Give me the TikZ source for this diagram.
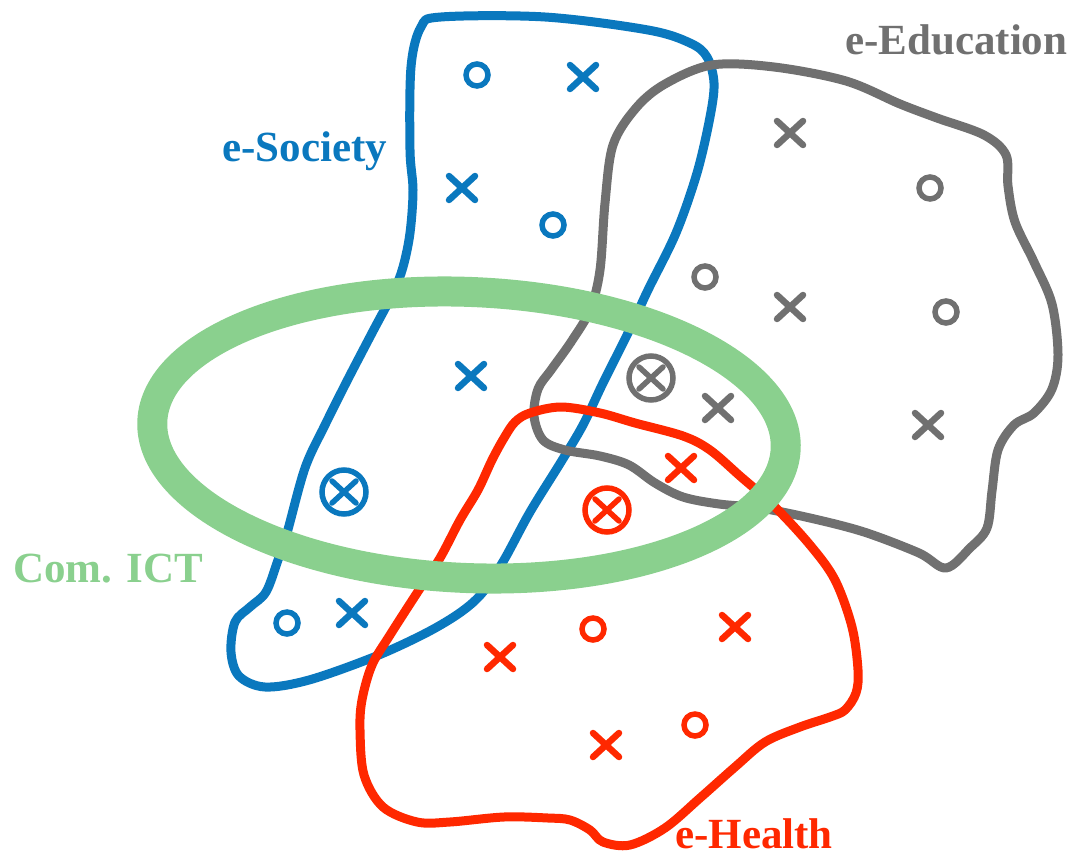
\documentclass[tikz,border=0pt]{standalone}
\usepackage{fontspec}
\setmainfont{Liberation Serif}
\definecolor{socblue}{RGB}{10,120,190}
\definecolor{edugray}{RGB}{112,112,112}
\definecolor{healthred}{RGB}{255,40,0}
\definecolor{ictgreen}{RGB}{138,208,142}
\tikzset{
  lbl/.style={font=\fontsize{43}{50}\selectfont\bfseries, anchor=base west, inner sep=0pt},
  shapeline/.style={line width=9pt, line join=round},
  xm/.pic={\draw[line width=6.5pt, line cap=round] (-13,-12)--(13,12) (-13,12)--(13,-12);},
  om/.pic={\draw[line width=5.5pt] (0,0) circle[radius=11];},
  oxm/.pic={\draw[line width=5.5pt] (0,0) circle[radius=22];
            \draw[line width=5.5pt, line cap=round] (-12,-11)--(12,11) (-12,11)--(12,-11);}
}
\begin{document}
\begin{tikzpicture}[x=1pt,y=-1pt]
\useasboundingbox (0,0) rectangle (1081,861);
% e-Society
\draw[socblue, shapeline] plot[smooth cycle, tension=0.55] coordinates {
 (421,27) (441,17) (545,17) (648,30) (690,43) (707,57) (714,83) (710,117) (697,173)
 (676,233) (648,290) (628,333) (603,383) (583,425) (561,462) (530,512) (504,560)
 (483,592) (461,612) (426,633) (374,657) (309,680) (265,687) (239,676) (231,652)
 (235,622) (250,607) (266,592) (278,560) (287,533) (305,468) (325,425) (347,381)
 (372,333) (393,293) (403,267) (410,233) (413,190) (410,150) (411,67)};
% e-Education
\draw[edugray, shapeline] plot[smooth cycle, tension=0.55] coordinates {
 (712,65) (774,67) (846,81) (900,104) (937,118) (984,135) (1006,155) (1008,186)
 (1015,222) (1034,262) (1052,304) (1058,355) (1052,389) (1034,413) (1014,425)
 (998,450) (992,491) (987,528) (970,548) (946,568) (919,553) (864,532) (810,518)
 (760,508) (719,504) (683,497) (655,483) (629,465) (600,456) (565,450) (543,440)
 (534,416) (538,389) (551,370) (571,342) (590,310) (600,270) (605,203) (613,145)
 (636,108) (665,84)};
% e-Health
\draw[healthred, shapeline] plot[smooth cycle, tension=0.55] coordinates {
 (530,413) (561,407) (600,413) (635,423) (683,436) (710,450) (740,476) (774,506)
 (810,545) (835,580) (852,627) (858,670) (856,693) (845,710) (830,717) (800,727)
 (765,742) (735,767) (700,798) (665,828) (630,845) (603,842) (590,830) (570,820)
 (548,818) (504,817) (450,822) (417,822) (383,807) (364,775) (360,730) (362,700)
 (372,665) (390,635) (417,593) (440,558) (460,520) (478,490) (492,460) (504,438)
 (515,422)};
% marks: e-Society
\begin{scope}[socblue]
\pic at (477,75) {om}; \pic at (583,77) {xm};
\pic at (462,188) {xm}; \pic at (553,225) {om};
\pic at (471,376) {xm};
\pic at (344,492) {oxm};
\pic at (287,623) {om}; \pic at (352,613) {xm};
\end{scope}
% marks: e-Education
\begin{scope}[edugray]
\pic at (790,133) {xm}; \pic at (930,188) {om};
\pic at (705,277) {om}; \pic at (790,307) {xm}; \pic at (946,312) {om};
\pic at (651,378) {oxm};
\pic at (718,408) {xm};
\pic at (928,425) {xm};
\end{scope}
% marks: e-Health
\begin{scope}[healthred]
\pic at (681,468) {xm};
\pic at (607,510) {oxm};
\pic at (500,657) {xm}; \pic at (593,629) {om}; \pic at (735,627) {xm};
\pic at (606,745) {xm}; \pic at (695,725) {om};
\end{scope}
% Com. ICT ellipse (on top)
\draw[ictgreen, line width=30pt, rotate around={-2.5:(469,435)}] (469,435) ellipse [x radius=317, y radius=143];
% labels
\node[lbl, text=socblue] (soc) at (222,162) {e-Society};
\node[lbl, text=edugray] (edu) at (845,55) {e-Education};
\node[lbl, text=ictgreen] (ict) at (13,582) {Com. ICT};
\node[lbl, text=healthred] (hea) at (675,848) {e-Health};
\end{tikzpicture}
\end{document}
